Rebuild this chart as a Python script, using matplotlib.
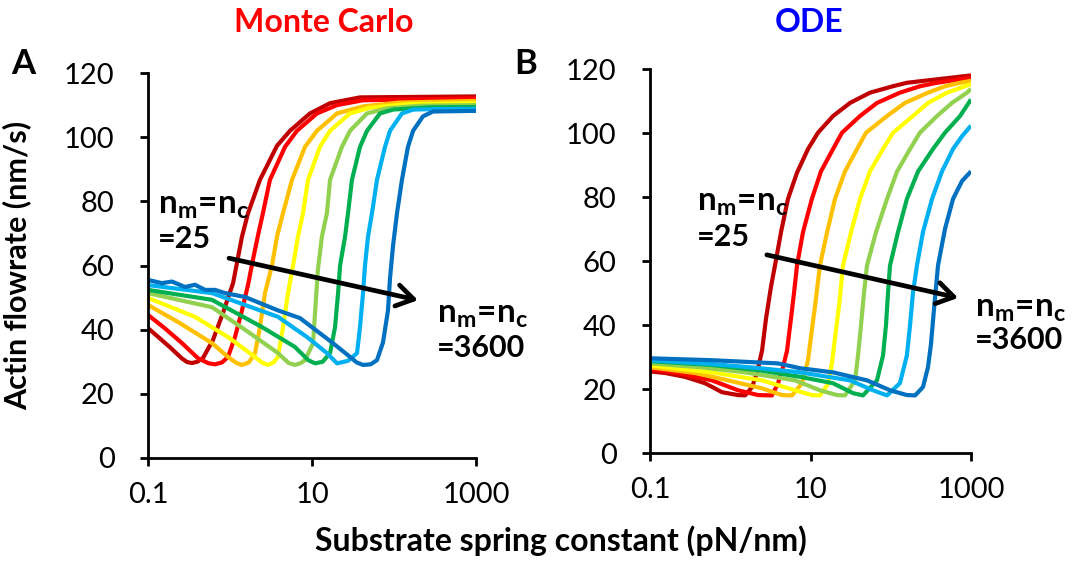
import matplotlib
matplotlib.use("Agg")
import matplotlib.pyplot as plt

plt.rcParams['font.family'] = ['Lato', 'DejaVu Sans']

# Monte Carlo panel (A): spring constant (pN/nm) and actin flowrate (nm/s)
mc_k1 = [0.1, 0.1855, 0.26, 0.30, 0.344, 0.40, 0.469, 0.62, 0.82, 1.09, 1.40, 1.66, 2.32, 3.74, 5.39, 9.45, 16.6, 38.5, 1000]
mc_v1 = [40.5, 34.5, 31, 29.9, 29.6, 30.0, 31.2, 36.8, 45.2, 54.5, 69, 76.3, 86.7, 97.3, 102, 107.4, 110.6, 112.4, 112.7]
mc_k2 = [0.1, 0.161, 0.26, 0.407, 0.55, 0.656, 0.80, 0.945, 1.15, 1.40, 1.66, 1.91, 2.20, 2.53, 3.07, 4.69, 6.56, 11.5, 20.2, 41.9, 1000]
mc_v2 = [44.6, 40.4, 35.8, 31.1, 29.5, 29.2, 29.8, 31.5, 37.7, 46, 54, 62, 69.5, 76.5, 86.7, 97, 102, 107.4, 110, 111.5, 112.1]
mc_k3 = [0.1, 0.232, 0.603, 0.945, 1.20, 1.40, 1.70, 2.02, 2.32, 2.67, 3.25, 3.74, 4.43, 5.70, 8.22, 11.5, 20.2, 41.9, 118, 1000]
mc_v3 = [47.7, 42.4, 35.8, 31.5, 29.6, 29, 29.8, 32.7, 40.8, 51.4, 60, 69, 76.3, 86.7, 97, 102, 107.4, 109.6, 110.8, 111.3]
mc_k4 = [0.1, 0.374, 0.945, 2.02, 2.50, 2.91, 3.40, 3.85, 4.43, 5.10, 5.87, 6.75, 7.77, 8.94, 12.5, 16.6, 29.1, 51.0, 157, 1000]
mc_v4 = [49.9, 44, 37.7, 31.5, 29.6, 29, 29.8, 31.5, 40.8, 51.4, 60, 69, 76.3, 86.7, 97, 102, 107.4, 109.2, 110.3, 110.6]
mc_k5 = [0.1, 0.603, 1.52, 3.85, 5.20, 6.20, 7.30, 8.22, 10.3, 11.2, 11.8, 13.2, 15.2, 16.6, 23.2, 29.1, 46.9, 82.2, 208, 1000]
mc_v5 = [51.4, 47, 40, 32.7, 29.6, 29, 29.6, 30.5, 35.8, 50, 58.6, 69, 76.3, 86.7, 97, 102, 107.4, 109, 109.8, 110]
mc_k6 = [0.1, 0.603, 2.46, 6.20, 9.0, 10.9, 13.5, 16.6, 19.1, 20.8, 22.0, 25.3, 27.5, 30.7, 38.5, 46.9, 67.5, 97.2, 275, 1000]
mc_v6 = [52.4, 49.3, 40.8, 34.6, 30.5, 29.5, 30.0, 32.7, 40.8, 51.4, 60, 69, 76.3, 86.7, 97, 102, 107.4, 108.6, 109.3, 109.4]
mc_k7 = [0.1, 0.603, 3.85, 8.69, 15.2, 20.2, 27.5, 35.4, 38.5, 41.9, 44.3, 48.2, 53.9, 62.0, 77.7, 89.4, 125, 171, 364, 1000]
mc_v7 = [53.9, 51.4, 44, 37.7, 32.7, 29.5, 30.3, 32.7, 40.8, 51.4, 60, 69, 76.3, 86.7, 97, 102, 107.4, 108.6, 108.8, 108.8]
mc_k8 = [0.1, 0.148, 0.196, 0.283, 0.374, 0.496, 0.656, 0.869, 1.52, 3.85, 7.14, 18.0, 29.1, 35.0, 41.9, 52.0, 62.0, 73.4, 84.5,
         89.4, 97.2, 108.8, 125, 148, 171, 226, 299, 1000]
mc_v8 = [55.5, 54.5, 55, 53.3, 54, 52.4, 52.4, 51.4, 50.2, 46, 43.6, 35.8, 31.5, 29.8, 29, 29.2, 30.5, 36, 46,
         56, 66, 76.3, 86.7, 97, 102, 106.5, 108, 108.2]

# ODE panel (B)
ode_k1 = [0.1, 0.154, 0.273, 0.485, 0.79, 1.25, 1.53, 1.87, 2.15, 2.49, 2.79, 3.22, 3.61, 4.29, 5.24, 6.79, 9.31, 12.4,
          19.1, 31.1, 55.1, 106, 159, 1000]
ode_v1 = [25.5, 25, 23.8, 21.8, 19, 18.1, 18, 20.6, 25, 32, 42, 52, 58.6, 69, 79.4, 87.6, 95, 100.1,
          105.3, 109.4, 112.6, 114.6, 115.7, 118]
ode_k2 = [0.1, 0.223, 0.59, 1.25, 2.22, 3.31, 3.94, 4.54, 5.10, 5.71, 6.23, 6.79, 8.06, 10.4, 13.5, 19.1, 24.7, 41.4,
          67.4, 130, 230, 377, 1000]
ode_v2 = [26.2, 25, 22.7, 19.6, 18.1, 18, 21.8, 26.8, 32, 42, 50, 58.6, 69, 79.4, 88, 95, 100.1, 105.3,
          109.4, 112.6, 114.6, 115.7, 117.3]
ode_k3 = [0.1, 0.364, 0.94, 2.49, 4.42, 5.88, 7.84, 9.31, 10.1, 11.4, 13.1, 16.1, 20.2, 26.9, 38.0, 49.2, 89.8, 150,
          291, 474, 730, 1000]
ode_v3 = [26.8, 25, 22.7, 20.2, 18.1, 18, 21.8, 29, 36, 46, 58.6, 69, 79.4, 88, 95, 100.1, 105.3, 109.4,
          112.6, 114.6, 115.7, 116.3]
ode_k4 = [0.1, 0.59, 2.49, 6.41, 10.4, 13.1, 16.5, 18.5, 20.2, 22.7, 25.4, 32.0, 41.4, 55.1, 80.1, 107, 189, 291,
          502, 1000]
ode_v4 = [27.4, 25.2, 22.7, 19.6, 18.1, 18, 21.5, 28, 36, 46, 58.6, 69, 79.4, 88, 95, 100.1, 105.3, 109.4,
          112.6, 115.3]
ode_k5 = [0.1, 0.42, 1.53, 6.41, 13.1, 21.4, 26.9, 35.9, 39.1, 42.6, 46.4, 50.6, 65.5, 89.8, 120, 174, 231, 377,
          580, 892, 1000]
ode_v5 = [28, 26.8, 25.2, 22.7, 19.6, 18.1, 18, 22.7, 30.5, 40, 50, 58.6, 69, 79.4, 88, 95, 100.1, 105.3,
          109.4, 112.6, 113.8]
ode_k6 = [0.1, 0.59, 2.35, 7.40, 19.1, 33.9, 45.1, 67.4, 80.1, 87.3, 92.4, 97.9, 123, 159, 219, 336, 474, 730, 1000]
ode_v6 = [28.7, 27.5, 25.8, 23.8, 21.8, 18.7, 18, 22.7, 30.5, 40, 50, 58.6, 69, 79.4, 88, 95, 100.1, 105.3, 110.5]
ode_k7 = [0.1, 0.59, 2.35, 7.40, 31.1, 60.1, 89.8, 130, 159, 174, 189, 212, 252, 327, 435, 597, 773, 1000]
ode_v7 = [29, 27.8, 26.5, 25.2, 22.7, 19.6, 18, 21.8, 30.5, 40, 50, 58.6, 69, 79.4, 88, 95, 99, 102.3]
ode_k8 = [0.1, 0.59, 3.94, 7.40, 19.1, 50.6, 97.9, 159, 201, 252, 291, 317, 346, 388, 474, 597, 773, 1000]
ode_v8 = [29.6, 29, 28, 26.5, 25.2, 22.7, 19.6, 18.1, 18, 20.6, 26.8, 34, 45, 58.6, 70, 79.4, 85, 88]

colors = ['#C00000', '#FF0000', '#FFC000', '#FFFF00', '#92D050', '#00B050', '#00B0F0', '#0070C0']
x_ticks = [0.1, 10, 1000]
x_tick_labels = ['0.1', '10', '1000']
y_ticks = [0, 20, 40, 60, 80, 100, 120]

mc_curves = [(mc_k1, mc_v1), (mc_k2, mc_v2), (mc_k3, mc_v3), (mc_k4, mc_v4),
             (mc_k5, mc_v5), (mc_k6, mc_v6), (mc_k7, mc_v7), (mc_k8, mc_v8)]
ode_curves = [(ode_k1, ode_v1), (ode_k2, ode_v2), (ode_k3, ode_v3), (ode_k4, ode_v4),
              (ode_k5, ode_v5), (ode_k6, ode_v6), (ode_k7, ode_v7), (ode_k8, ode_v8)]

fig = plt.figure(figsize=(10.75, 5.62), dpi=100)
ax_a = fig.add_axes([148 / 1075, 104 / 562, 328 / 1075, 385 / 562])
ax_b = fig.add_axes([650 / 1075, 109 / 562, 321 / 1075, 384 / 562])

for ax, curves in [(ax_a, mc_curves), (ax_b, ode_curves)]:
    for (k, v), c in zip(curves, colors):
        ax.plot(k, v, color=c, linewidth=3.0, solid_capstyle='butt', solid_joinstyle='round')
    ax.set_xscale('log')
    ax.set_xlim(0.1, 1000)
    ax.set_ylim(0, 120)
    ax.set_xticks(x_ticks)
    ax.set_xticklabels(x_tick_labels)
    ax.xaxis.set_minor_locator(plt.NullLocator())
    ax.set_yticks(y_ticks)
    for side in ['top', 'right']:
        ax.spines[side].set_visible(False)
    for side in ['left', 'bottom']:
        ax.spines[side].set_linewidth(2.0)
    ax.tick_params(direction='out', length=6, width=2.0, labelsize=21)
    ax.tick_params(axis='y', pad=18)
    ax.tick_params(axis='x', pad=11)

ax_a.set_ylabel('Actin flowrate (nm/s)', fontsize=22, fontweight='bold')
ax_a.yaxis.set_label_coords(-0.355, 0.5)
fig.text(561 / 1075, 1 - 541 / 562, 'Substrate spring constant (pN/nm)', fontsize=23,
         fontweight='bold', ha='center', va='center')

fig.text(324 / 1075, 1 - 22 / 562, 'Monte Carlo', color='#FF0000', fontsize=23,
         fontweight='bold', ha='center', va='center')
fig.text(809 / 1075, 1 - 22 / 562, 'ODE', color='#0000FF', fontsize=23,
         fontweight='bold', ha='center', va='center')
fig.text(11 / 1075, 1 - 64 / 562, 'A', fontsize=25, fontweight='bold', va='center')
fig.text(514 / 1075, 1 - 64 / 562, 'B', fontsize=25, fontweight='bold', va='center')

label = r'n$_\mathregular{m}$=n$_\mathregular{c}$'
for ax, left, right in [(ax_a, (0.03, 0.635, 0.545), (0.881, 0.352, 0.263)),
                        (ax_b, (0.146, 0.632, 0.538), (1.012, 0.357, 0.272))]:
    ax.text(left[0], left[1], label, transform=ax.transAxes, fontsize=24, fontweight='bold')
    ax.text(left[0], left[2], '=25', transform=ax.transAxes, fontsize=22, fontweight='bold')
    ax.text(right[0], right[1], label, transform=ax.transAxes, fontsize=24, fontweight='bold')
    ax.text(right[0], right[2], '=3600', transform=ax.transAxes, fontsize=22, fontweight='bold')

ax_a.annotate('', xy=(0.823, 0.41), xytext=(0.247, 0.519), xycoords='axes fraction',
              arrowprops=dict(arrowstyle='->,head_length=0.55,head_width=0.35', lw=3.4,
                              color='black', mutation_scale=22, shrinkA=0, shrinkB=0))
ax_b.annotate('', xy=(0.960, 0.404), xytext=(0.364, 0.516), xycoords='axes fraction',
              arrowprops=dict(arrowstyle='->,head_length=0.55,head_width=0.35', lw=3.4,
                              color='black', mutation_scale=22, shrinkA=0, shrinkB=0))

fig.savefig('out.png', dpi=100)
